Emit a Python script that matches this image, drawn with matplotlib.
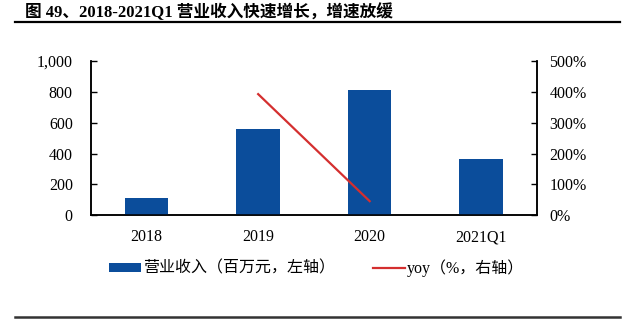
import matplotlib
matplotlib.use("Agg")
import matplotlib.pyplot as plt
from matplotlib.lines import Line2D
from matplotlib.patches import Patch
import numpy as np

categories = ["2018", "2019", "2020", "2021Q1"]
revenue = [110, 557, 811, 363]          # 营业收入，百万元
yoy = [np.nan, 392, 46, np.nan]          # 同比增速，%
left_ticks = [0, 200, 400, 600, 800, 1000]
left_labels = ["0", "200", "400", "600", "800", "1,000"]
right_ticks = [0, 100, 200, 300, 400, 500]
right_labels = ["0%", "100%", "200%", "300%", "400%", "500%"]

title = "图 49、2018-2021Q1 营业收入快速增长，增速放缓"
bar_label = "营业收入（百万元，左轴）"
line_label = "yoy（%，右轴）"

BAR_COLOR = "#0B4D9B"
LINE_COLOR = "#D42F2F"
serif = ["Liberation Serif", "DejaVu Serif"]
mixed = ["Liberation Serif", "Noto Sans CJK SC", "DejaVu Sans"]

fig = plt.figure(figsize=(6.4, 3.22), dpi=100)
ax = fig.add_axes([0.142, 0.331, 0.697, 0.4805])
ax2 = ax.twinx()

x = np.arange(len(categories))
ax.bar(x, revenue, width=0.39, color=BAR_COLOR, zorder=2)
# yoy is plotted on the right-hand scale (0-500%), which maps onto 0-1000 left
ax.plot(x, np.array(yoy) * (1000 / 500), color=LINE_COLOR, lw=1.6, zorder=3)

ax.set_xlim(-0.5, len(categories) - 0.5)
ax.set_ylim(0, 1000)
ax2.set_ylim(0, 500)

ax.set_xticks(x)
ax.set_xticklabels(categories, fontfamily=serif, fontsize=11.5)
ax.set_yticks(left_ticks)
ax.set_yticklabels(left_labels, fontfamily=serif, fontsize=11.5)
ax2.set_yticks(right_ticks)
ax2.set_yticklabels(right_labels, fontfamily=serif, fontsize=11.5)

ax.tick_params(axis="x", length=0, pad=10)
ax.tick_params(axis="y", direction="in", length=4.5, width=1, pad=13)
ax2.tick_params(axis="y", direction="in", length=4.5, width=1, pad=9)

for a in (ax, ax2):
    a.spines["top"].set_visible(False)
    for s in ("left", "right", "bottom"):
        a.spines[s].set_color("black")
        a.spines[s].set_linewidth(1.1)

ax.set_zorder(ax2.get_zorder() + 1)
ax.patch.set_visible(False)

# legend
handles = [Patch(facecolor=BAR_COLOR, edgecolor="none"),
           Line2D([0], [0], color=LINE_COLOR, lw=1.6)]
fig.legend(handles, [bar_label, line_label], loc="center",
           bbox_to_anchor=(0.495, 0.168), ncol=2, frameon=False,
           prop={"family": mixed, "size": 11.5}, handlelength=2.0,
           handleheight=0.5, handletextpad=0.1, columnspacing=2.4)

# title and rules
fig.text(0.039, 0.962, title, fontfamily=mixed, fontweight="bold",
         fontsize=12, va="center", ha="left")
fig.add_artist(Line2D([0.023, 0.969], [0.933, 0.933], color="black", lw=1.6,
                      transform=fig.transFigure))
fig.add_artist(Line2D([0.023, 0.969], [0.016, 0.016], color="#333333", lw=1.8,
                      transform=fig.transFigure))

fig.savefig("out.png", dpi=100)
